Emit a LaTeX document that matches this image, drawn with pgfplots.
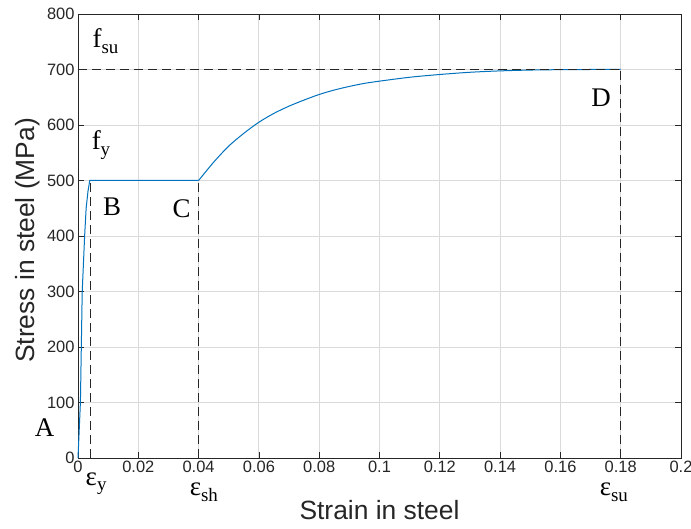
\documentclass[border=0pt]{standalone}
\usepackage{fontspec}
\setmainfont{Liberation Sans}
\newfontfamily\tnr{Liberation Serif}
\usepackage{pgfplots}
\pgfplotsset{compat=1.18}
\definecolor{mblue}{RGB}{0,114,189}
\definecolor{axgray}{RGB}{38,38,38}
\definecolor{gridgray}{RGB}{218,218,218}
\newcommand{\ann}[1]{{\tnr\fontsize{27}{30}\selectfont #1}}
\newcommand{\sub}[1]{\raisebox{-0.2em}{\fontsize{19}{19}\selectfont #1}}
\begin{document}
\begin{tikzpicture}
\begin{axis}[
  width=603bp, height=444bp, scale only axis,
  xmin=0, xmax=0.2, ymin=0, ymax=800,
  xtick={0,0.02,0.04,0.06,0.08,0.1,0.12,0.14,0.16,0.18,0.2},
  xticklabels={0,0.02,0.04,0.06,0.08,0.1,0.12,0.14,0.16,0.18,0.2},
  ytick={0,100,200,300,400,500,600,700,800},
  grid=major,
  major grid style={gridgray, line width=0.9bp},
  axis line style={axgray, line width=0.8bp},
  tick style={axgray, line width=0.8bp},
  tick align=inside, major tick length=6bp,
  /pgf/number format/assume math mode=true,
  ticklabel style={font=\fontsize{16.5}{18}\selectfont, text=axgray},
  xlabel={Strain in steel},
  ylabel={Stress in steel (MPa)},
  label style={font=\fontsize{26.5}{30}\selectfont, text=axgray},
  xlabel style={at={(axis description cs:0.5,-0.117)}, anchor=center},
  ylabel style={at={(axis description cs:-0.083,0.49)}, anchor=center},
  clip=false,
]
\addplot[mblue, line width=1bp] coordinates {
  (0,0) (0.0008,100) (0.0011,200) (0.0014,300) (0.0022,400) (0.0027,450)
  (0.0033,480) (0.0039,500) (0.04,500)
};
\addplot[mblue, line width=1bp, smooth, tension=0.5] coordinates {
  (0.04,500) (0.045,533) (0.05,562) (0.055,585) (0.06,605) (0.065,621) (0.07,634)
  (0.075,645) (0.08,655) (0.085,663) (0.09,669.5) (0.095,675) (0.1,679)
  (0.11,686) (0.12,691) (0.13,695) (0.14,697.5) (0.15,699) (0.16,699.7)
  (0.17,700) (0.18,700)
};
\addplot[black!85, line width=1.1bp, dash pattern=on 9bp off 5bp] coordinates {(0,700) (0.18,700)};
\addplot[black!85, line width=1.1bp, dash pattern=on 9bp off 5bp] coordinates {(0.004,0) (0.004,500)};
\addplot[black!85, line width=1.1bp, dash pattern=on 9bp off 5bp] coordinates {(0.04,0) (0.04,500)};
\addplot[black!85, line width=1.1bp, dash pattern=on 9bp off 5bp] coordinates {(0.18,0) (0.18,700)};
\node at (axis cs:-0.0111,54) {\ann{A}};
\node at (axis cs:0.0113,453) {\ann{B}};
\node at (axis cs:0.0344,450) {\ann{C}};
\node at (axis cs:0.1735,650) {\ann{D}};
\node[anchor=base west, inner sep=0pt] at (axis cs:0.0048,739) {\ann{f\sub{su}}};
\node[anchor=base west, inner sep=0pt] at (axis cs:0.0045,555) {\ann{f\sub{y}}};
\node[anchor=base west, inner sep=0pt] at (axis cs:0.0025,-49) {\ann{ε\sub{y}}};
\node[anchor=base west, inner sep=0pt] at (axis cs:0.037,-68) {\ann{ε\sub{sh}}};
\node[anchor=base west, inner sep=0pt] at (axis cs:0.173,-68) {\ann{ε\sub{su}}};
\end{axis}
\pgfresetboundingbox
\path ([xshift=-78bp,yshift=-71bp]current axis.south west) rectangle ([xshift=10bp,yshift=14bp]current axis.north east);
\end{tikzpicture}
\end{document}
